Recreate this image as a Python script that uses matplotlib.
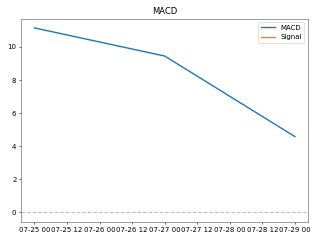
import numpy as np
import pandas as pd
import matplotlib
matplotlib.use("Agg")
import matplotlib.pyplot as plt

# MACD values; the signal line has no visible points
dates = pd.to_datetime(["2024-07-25", "2024-07-27", "2024-07-29"])
macd = [11.15, 9.45, 4.58]
signal = [np.nan, np.nan, np.nan]

fig, ax = plt.subplots(figsize=(6.4, 4.8), dpi=50)
ax.plot(dates, macd, label="MACD", linewidth=2)
ax.plot(dates, signal, label="Signal", linewidth=2)
ax.axhline(0, color="grey", linestyle="--", alpha=0.5)
for s in ax.spines.values():
    s.set_color("#555555")
ax.set_title("MACD")
ax.legend()
fig.tight_layout()
fig.savefig("out.png")
